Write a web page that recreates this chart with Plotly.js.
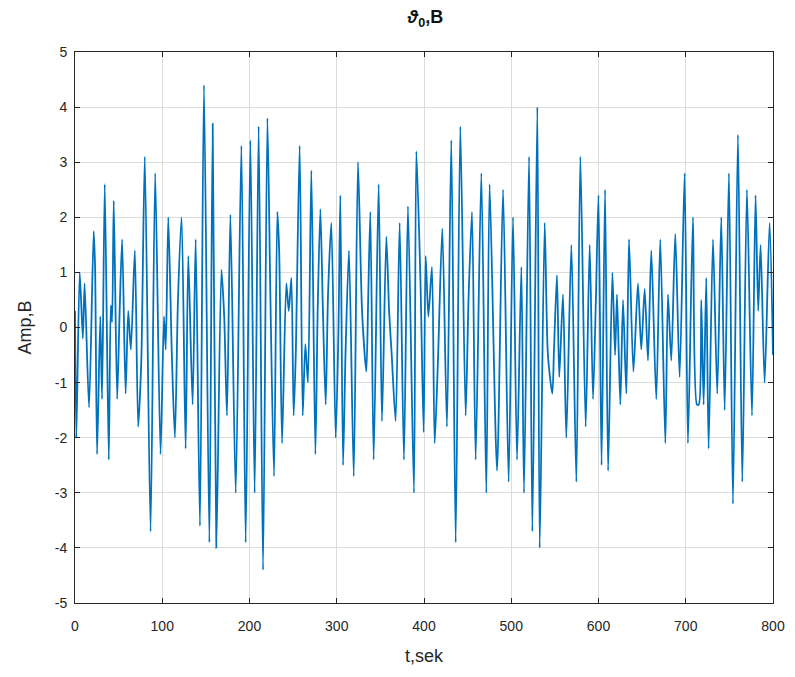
<!DOCTYPE html>
<html>
<head>
<meta charset="utf-8">
<script src="https://cdn.plot.ly/plotly-3.0.1.min.js"></script>
<style>html,body{margin:0;padding:0;background:#fff;}#chart{width:795px;height:677px;}</style>
</head>
<body>
<div id="chart"></div>
<script>
// time (s) of read-off turning points
const timeSec = [
  0, 1.5, 5.4, 9, 11, 16.1, 21.4, 23, 25.3, 29, 31, 34.1, 38.7, 41, 42.5, 44.4, 48.3, 51, 54, 58,
  61, 64, 68.6, 72.4, 76, 80, 86.6, 91.9, 98, 102, 104, 106.9, 111, 114.5, 118, 122.2, 126.8, 129.8, 134.8, 138.3,
  143.2, 147.8, 154, 157.8,
  162, 167.8, 171, 174.2, 178.1, 184.2, 190.7, 195.6, 201, 205.9, 210.5, 215.5, 220.5, 224, 228.1, 231.9, 234, 237.3,
  242.2, 245, 248, 250.6, 253, 257.5, 261, 264, 267, 270.9, 275.5, 278, 281.2, 284, 287.3, 290, 293.8, 298.8,
  302, 304.1, 307.2, 310, 314,
  319.5, 324.3, 329, 333.9, 336, 338.5, 342.3, 348, 351.8, 356.8, 360, 363, 367.5, 372.1, 377, 381.6, 388.5, 391.2,
  396, 399.6, 401.9, 405, 409.1, 412.2, 416, 421, 426.3, 431.3, 436.3, 441.6, 447.7, 451, 455, 459.2, 465.7, 471.4, 475.2,
  483.7, 490.6, 497, 502, 506.6, 511.6, 514.6, 520.4, 524.2, 529.9, 532.6, 538.3, 542, 547.1, 549, 552.4, 555, 559.3,
  563.1, 568.9, 574.6, 579.2, 585.3, 589.9, 593.7, 597, 600, 603.5, 607.5, 611, 615.9, 619, 621.2, 625, 628.1, 631.9, 635,
  640, 645.2, 649, 652.9, 656.7, 660.5, 666.2, 670.8, 676.6, 679.6, 683.4, 688, 693, 698.7, 702.5, 708.3, 712.8, 715,
  717.8, 720.5, 723.5, 726.2, 731.2, 736.1, 740.7, 744.6, 749.5, 754.1, 759.8, 764.8, 770.1, 775.9, 780, 783, 785.8,
  790.4, 796.1, 800
];
// amplitude (V)
const ampV = [
  0.3, -2.0, 1.0, -0.2, 0.8, -1.45, 1.75, 1.1, -2.3, 0.2, -1.3, 2.6, -2.4, 0.4, 0.1, 2.3, -1.3, 0.2, 1.6, -1.2,
  0.3, -0.4, 1.4, -1.8, -0.6, 3.1, -3.7, 2.8, -2.3, 0.2, -0.4, 2.0, -0.5, -2.0, 0.5, 2.0, -2.2, 1.3, -1.4, 1.6,
  -3.6, 4.4, -3.9, 3.7,
  -4.0, 1.05, 0.2, -1.6, 2.05, -3.0, 3.3, -3.9, 3.4, -3.0, 3.65, -4.4, 3.8, 0.5, -2.7, 2.1, 1.4, -2.1,
  0.8, 0.3, 0.9, -1.6, -0.5, 3.3, -1.6, -0.3, -1.0, 2.85, -2.3, 0.2, 2.15, 0.4, -1.4, 0.6, 1.9, -2.0,
  0.0, 2.4, -2.5, -0.5, 1.4,
  -2.7, 3.0, 0.3, -0.8, 0.5, 2.1, -2.4, 2.6, -1.7, 1.65, 0.3, -0.5, -1.7, 1.9, -2.4, 2.2, -3.0, 3.2,
  0.8, -1.9, 1.3, 0.2, 1.1, -2.1, -0.6, 1.8, -1.8, 3.4, -3.9, 3.65, -1.6, 0.5, 2.1, -2.4, 2.8, -3.0, 2.6,
  -2.6, 2.5, -2.8, 2.0, -2.4, 1.1, -3.0, 3.1, -3.7, 4.0, -4.0, 1.9, -0.5, -1.2, -0.4, 0.95, -0.9, 0.6,
  -2.0, 1.5, -2.8, 3.1, -1.8, 1.5, -1.3, 0.5, 2.4, -2.5, 2.5, -2.6, 1.0, -0.5, 0.6, -1.4, 0.5, -1.2, 1.6,
  -0.8, 0.8, -0.4, 0.7, -0.6, 1.4, -1.3, 1.6, -2.1, 0.6, -0.6, 1.7, -0.9, 2.8, -2.1, 2.0, -1.4, -1.4,
  0.5, -1.4, 0.9, -2.2, 1.6, -1.2, 2.0, -1.5, 2.8, -3.2, 3.5, -2.8, 2.5, -1.6, 2.4, 0.3, 1.5,
  -1.0, 1.9, -0.5
];
const xTicks = [0, 100, 200, 300, 400, 500, 600, 700, 800];
const yTicks = [-5, -4, -3, -2, -1, 0, 1, 2, 3, 4, 5];

const FONT = 'Liberation Sans, Arial, sans-serif';
const axisCommon = {
  showline: true, mirror: 'ticks', linecolor: '#262626', linewidth: 1,
  ticks: 'inside', ticklen: 5, tickwidth: 1, tickcolor: '#262626',
  showgrid: true, gridcolor: '#dcdcdc', gridwidth: 1, zeroline: false,
  tickfont: {family: FONT, size: 14, color: '#262626'}
};

Plotly.newPlot('chart', [{
  x: timeSec, y: ampV, type: 'scatter', mode: 'lines',
  line: {color: '#0072BD', width: 1.8, shape: 'spline', smoothing: 0.7},
  hoverinfo: 'skip'
}], {
  width: 795, height: 677,
  margin: {l: 75, r: 22, t: 52, b: 74},
  paper_bgcolor: '#ffffff', plot_bgcolor: '#ffffff',
  showlegend: false,
  title: {text: '<b><i>ϑ</i><sub>0</sub>,B</b>', x: 0.535, xanchor: 'center', y: 0.985, yanchor: 'top',
          font: {family: FONT, size: 18, color: '#111'}},
  xaxis: Object.assign({}, axisCommon, {
    range: [0, 800], tickvals: xTicks, ticktext: xTicks.map(String),
    ticklabelstandoff: 10,
    title: {text: 't,sek', standoff: 16, font: {family: FONT, size: 18, color: '#262626'}}
  }),
  yaxis: Object.assign({}, axisCommon, {
    range: [-5, 5], tickvals: yTicks, ticktext: yTicks.map(String),
    ticklabelstandoff: 4,
    title: {text: 'Amp,B', standoff: 18, font: {family: FONT, size: 18, color: '#262626'}}
  })
}, {staticPlot: true});
</script>
</body>
</html>
